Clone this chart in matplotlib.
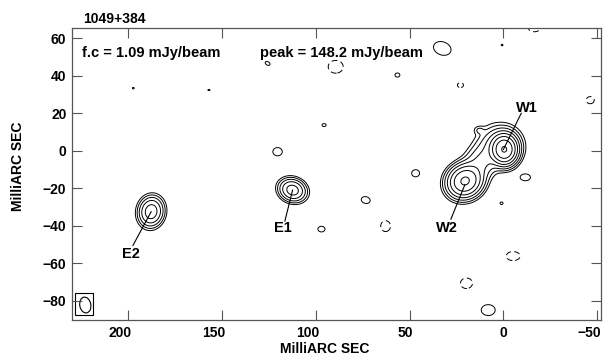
import numpy as np
import matplotlib
matplotlib.use('Agg')
import matplotlib.pyplot as plt
from matplotlib.patches import Ellipse, Rectangle
from matplotlib.transforms import ScaledTranslation

plt.rcParams['font.family'] = ['Liberation Sans', 'DejaVu Sans']
plt.rcParams['font.weight'] = 'bold'
plt.rcParams['axes.labelweight'] = 'bold'

# map info
title = '1049+384'
first_contour = 1.09     # mJy/beam
peak_flux = 148.2        # mJy/beam
level_mult = [-1, 1, 2, 4, 8, 16, 32, 64, 128]

# source components (gaussians, mas / mJy)
src_x = [-0.5, 2.0, 13.0, 20.5, 12.0, 112.4, 187.8]
src_y = [0.7, 3.0, 11.0, -16.2, -6.0, -21.0, -32.5]
src_amp = [140.0, 12.0, 2.0, 78.0, 10.0, 25.0, 27.0]
src_sa = [3.3, 6.0, 1.8, 4.6, 6.0, 3.7, 3.3]
src_sb = [3.8, 5.5, 1.4, 4.1, 4.5, 3.0, 4.0]
src_ang = [0, 0, 0, -30, -50, 20, 10]

# noise blobs: single contour, +1 solid, -1 dashed
blob_x = [197.3, 157.0, 125.7, 120.4, 32.6, 0.7, 56.5, 95.6, 46.8, -11.7, 1.0, 73.4, 97.0, 8.1,
          -16.5, 89.4, 22.9, -46.3, 62.8, -5.2, 19.7]
blob_y = [33.4, 32.4, 46.6, -0.5, 54.6, 56.4, 40.4, 13.7, -12.0, -14.2, -28.0, -26.3, -41.8, -85.0,
          65.5, 44.8, 35.0, 27.0, -40.2, -56.2, -70.7]
blob_ra = [0.5, 0.6, 1.4, 2.5, 4.8, 0.5, 1.3, 1.1, 2.1, 2.7, 0.8, 2.4, 1.9, 3.7,
           3.2, 4.0, 1.6, 2.1, 2.6, 3.7, 3.2]
blob_rb = [0.4, 0.3, 0.9, 2.2, 3.5, 0.4, 1.1, 0.8, 1.9, 1.8, 0.7, 1.8, 1.5, 2.9,
           2.0, 3.4, 1.3, 1.9, 2.9, 2.4, 2.8]
blob_ang = [0, 0, 30, 0, 20, 0, 0, 0, 0, 0, 0, 15, 0, 0,
            0, 0, 0, 0, 0, 0, 0]
blob_sign = [1, 1, 1, 1, 1, 1, 1, 1, 1, 1, 1, 1, 1, 1,
             -1, -1, -1, -1, -1, -1, -1]

# beam
beam_x, beam_y = 222.9, -82.3
beam_w, beam_h, beam_ang = 5.9, 8.5, -10

# component labels: name, text pos, line start, line end
lab_name = ['W1', 'W2', 'E1', 'E2']
lab_tx = [-12.6, 30.0, 117.7, 198.5]
lab_ty = [23.0, -41.0, -41.2, -55.0]
lab_x0 = [0.0, 20.5, 112.4, 187.8]
lab_y0 = [0.7, -18.0, -21.0, -32.5]
lab_x1 = [-9.5, 28.0, 116.5, 197.5]
lab_y1 = [20.0, -36.5, -37.5, -50.5]

xg = np.arange(-54, 232, 0.25)
yg = np.arange(-92, 67, 0.25)
X, Y = np.meshgrid(xg, yg)


def gauss(x0, y0, amp, sa, sb, ang):
    t = np.deg2rad(ang)
    dx, dy = X - x0, Y - y0
    u = dx * np.cos(t) + dy * np.sin(t)
    v = -dx * np.sin(t) + dy * np.cos(t)
    return amp * np.exp(-0.5 * ((u / sa) ** 2 + (v / sb) ** 2))


Z = np.zeros_like(X)
for i in range(len(src_x)):
    Z += gauss(src_x[i], src_y[i], src_amp[i], src_sa[i], src_sb[i], src_ang[i])
k = np.sqrt(2 * np.log(1.4))
for i in range(len(blob_x)):
    Z += gauss(blob_x[i], blob_y[i], blob_sign[i] * 1.4 * first_contour,
               blob_ra[i] / k, blob_rb[i] / k, blob_ang[i])

fig = plt.figure(figsize=(6.08, 3.58), dpi=100)
ax = fig.add_axes([0.1184, 0.1061, 0.870, 0.8157])

levels = [m * first_contour for m in level_mult]
ax.contour(X, Y, Z, levels=levels, colors='black', linewidths=0.7,
           negative_linestyles=(0, (6, 3.5)))

# beam
ax.add_patch(Rectangle((218.6, -87.6), 9.8, 11.9, fill=False, ec='black', lw=0.8))
ax.add_patch(Ellipse((beam_x, beam_y), beam_w, beam_h, angle=beam_ang, fill=False, ec='black', lw=0.8))

for i in range(len(lab_name)):
    ax.plot([lab_x0[i], lab_x1[i]], [lab_y0[i], lab_y1[i]], color='black', lw=0.8)
    ax.text(lab_tx[i], lab_ty[i], lab_name[i], ha='center', va='center', fontsize=10.5)

ax.text(0.019, 0.914, 'f.c = %.2f mJy/beam' % first_contour, transform=ax.transAxes,
        ha='left', va='center', fontsize=10.5)
ax.text(0.355, 0.914, 'peak = %.1f mJy/beam' % peak_flux, transform=ax.transAxes,
        ha='left', va='center', fontsize=10.5)
fig.text(0.1365, 0.947, title, ha='left', va='center', fontsize=10)

ax.set_xlim(230, -52)
ax.set_ylim(-90.3, 65.5)
ax.set_xticks([200, 150, 100, 50, 0, -50])
ax.set_yticks([60, 40, 20, 0, -20, -40, -60, -80])
ax.tick_params(direction='in', length=7, width=0.8, color='#555555', top=True, right=True,
               labelsize=10, pad=4)
for s in ax.spines.values():
    s.set_color('#555555')
    s.set_linewidth(0.9)
off = ScaledTranslation(3.5 / 100, 0, fig.dpi_scale_trans)
for lab in ax.get_xticklabels():
    lab.set_ha('right')
    lab.set_transform(lab.get_transform() + off)

ax.set_xlabel('MilliARC SEC', fontsize=10)
ax.set_ylabel('MilliARC SEC', fontsize=10)
ax.xaxis.set_label_coords(0.477, -0.075)
ax.yaxis.set_label_coords(-0.089, 0.527)

fig.savefig('out.png', dpi=100)
